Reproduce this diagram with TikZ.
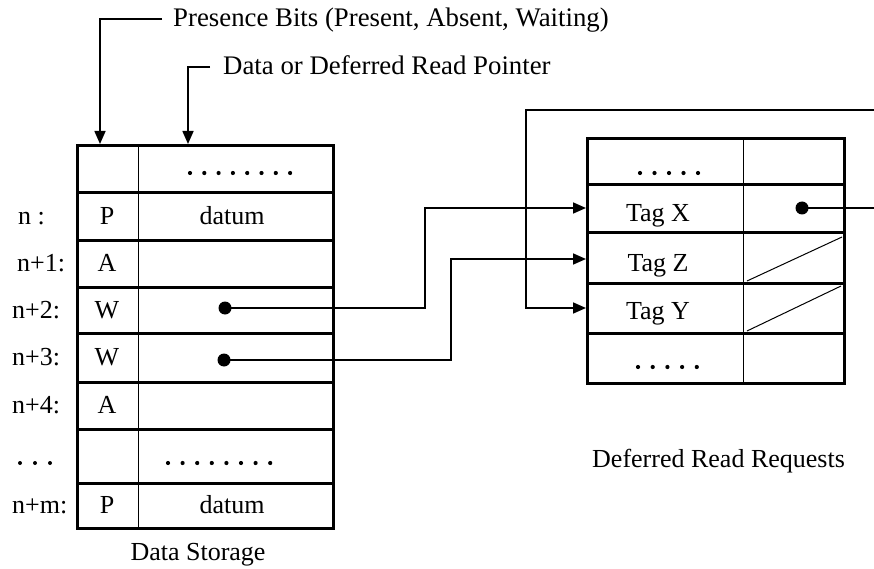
\documentclass[tikz,border=0pt]{standalone}
\usepackage{fontspec}
\setmainfont{Liberation Serif}
\usetikzlibrary{arrows.meta}
\begin{document}
\begin{tikzpicture}[x=1pt,y=-1pt,
  frame/.style={line width=3pt},
  divider/.style={line width=0.9pt},
  conn/.style={line width=1.6pt,-{Triangle[length=13pt,width=11pt]}},
  slash/.style={line width=1pt},
  lbl/.style={inner sep=0pt,anchor=base,font=\fontsize{26}{30}\selectfont},
  lblw/.style={lbl,anchor=base west},
  caption/.style={lblw,font=\fontsize{26.8}{30}\selectfont},
  bullet/.style={circle,fill=black,inner sep=0pt,minimum size=13pt},
]
\useasboundingbox[fill=white] (0,0) rectangle (874,569);

% ---------- captions above the storage table ----------
\node[caption] (pres) at (173,27) {Presence Bits (Present, Absent, Waiting)};
\node[caption] (dptr) at (223,75) {Data or Deferred Read Pointer};
\coordinate (presEnd) at (162,19);
\coordinate (presTip) at (100,144);
\coordinate (dptrEnd) at (210,67);
\coordinate (dptrTip) at (188,144);
\draw[conn] (presEnd) -| (presTip);
\draw[conn] (dptrEnd) -| (dptrTip);

% ---------- data storage table ----------
\draw[frame] (77,146) rectangle (333,528);
\foreach \y in {193,240,287,333,382,429,483}
  \draw[frame] (77,\y) -- (333,\y);
\draw[divider] (138,146) -- (138,528);

% row labels
\node[lblw] (ln)  at (18,224) {n :};
\node[lblw] (ln1) at (17,271) {n+1:};
\node[lblw] (ln2) at (12,318) {n+2:};
\node[lblw] (ln3) at (12,365) {n+3:};
\node[lblw] (ln4) at (12,413) {n+4:};
\node[lblw] (lnm) at (12,513) {n+m:};
\foreach \x in {20,35,50} \fill (\x,463) circle (2pt);

% presence bits
\node[lbl] (bn)  at (107,224) {P};
\node[lbl] (bn1) at (107,271) {A};
\node[lbl] (bn2) at (107,318) {W};
\node[lbl] (bn3) at (107,365) {W};
\node[lbl] (bn4) at (107,413) {A};
\node[lbl] (bnm) at (107,513) {P};

% data fields
\foreach \i in {0,...,7} \fill (190+\i*14.3,173) circle (2.1pt);
\foreach \i in {0,...,7} \fill (168+\i*14.6,463) circle (2.1pt);
\node[lbl] (dn)  at (232,224) {datum};
\node[lbl] (dnm) at (232,513) {datum};
\node[bullet] (p2) at (225,308) {};
\node[bullet] (p3) at (224,360) {};

\node[lbl] (dstore) at (198,560) {Data Storage};

% ---------- deferred read requests table ----------
\draw[frame] (587,139) rectangle (844,383);
\foreach \y in {185,232,283,333}
  \draw[frame] (587,\y) -- (844,\y);
\draw[divider] (743,139) -- (743,383);

\foreach \i in {0,...,4} \fill (640+\i*14.5,173) circle (2.1pt);
\foreach \i in {0,...,4} \fill (638+\i*14.7,367) circle (2.1pt);
\node[lbl] (tx) at (658,222) {Tag X};
\node[lbl] (tz) at (658,271) {Tag Z};
\node[lbl] (ty) at (658,319) {Tag Y};
\node[bullet] (q) at (802,208) {};
\draw[slash] (747,281) -- (842,237);
\draw[slash] (747,331) -- (841,286);

\node[lblw] (dreq) at (592,467) {Deferred Read Requests};

% ---------- pointers ----------
\coordinate (inX) at (586,208);
\coordinate (inZ) at (586,259);
\coordinate (inY) at (586,308);
\coordinate (kx) at (425,0);
\coordinate (kz) at (451,0);
\coordinate (loopR) at (880,110);
\coordinate (loopL) at (526,110);
\draw[conn] (p2.center) -- (p2.center -| kx) |- (inX);
\draw[conn] (p3.center) -- (p3.center -| kz) |- (inZ);
\draw[conn] (q.center) -- (q.center -| loopR) -- (loopR) -- (loopL) |- (inY);
\end{tikzpicture}
\end{document}
